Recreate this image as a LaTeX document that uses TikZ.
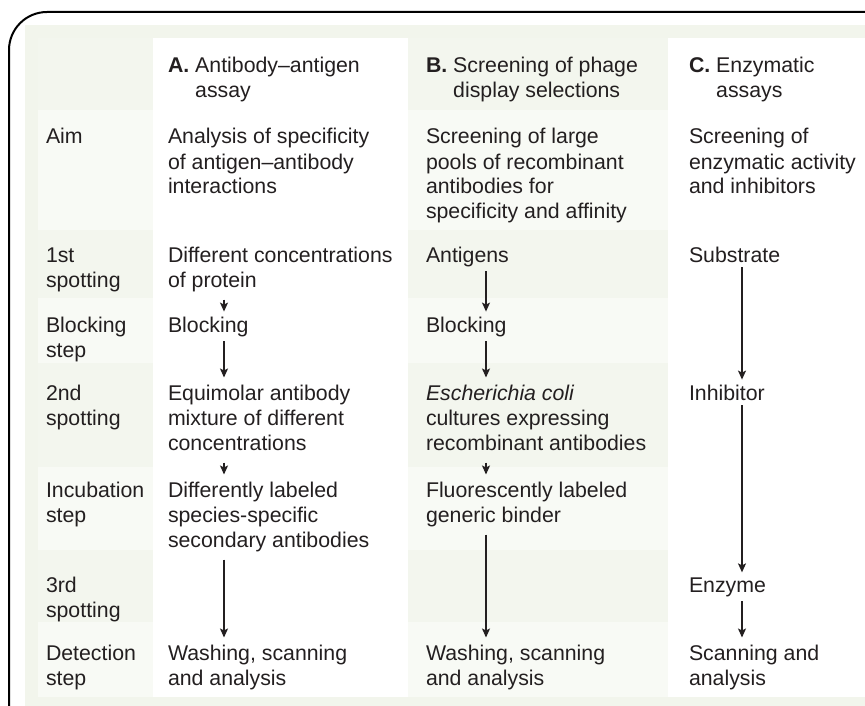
\documentclass[tikz,border=0pt]{standalone}
\usepackage{fontspec}
\setmainfont{Liberation Sans}
\usetikzlibrary{arrows.meta}
\definecolor{ink}{HTML}{231F20}
\definecolor{panel}{HTML}{F2F5EC}
\definecolor{bandD}{HTML}{F3F6EE}
\definecolor{bandL}{HTML}{F8FAF5}
\newcommand{\mycell}[1]{\begin{tabular}[t]{@{}l@{}}#1\end{tabular}}
\tikzset{
  txt/.style={anchor=base west, inner sep=0pt, outer sep=0pt, text=ink, font=\fontsize{21.3}{25}\selectfont},
  arr/.style={draw=ink, line width=1.3pt, -{Stealth[length=9pt,width=8pt,inset=2pt]}, shorten <=5pt, shorten >=5pt},
  frame/.style={draw=black, line width=2pt, rounded corners=38pt},
}
\begin{document}
\begin{tikzpicture}[x=1pt,y=-1pt]
\useasboundingbox (0,0) rectangle (865,706);
% background panel
\fill[panel] (25,706) -- (25,25) -- (865,25) -- (865,706) -- cycle;
% row bands in label column and column B
\foreach \ya/\yb/\c in {38/110/bandD,110/230/bandL,230/298/bandD,298/363/bandL,363/467/bandD,467/550/bandL,550/622/bandD,622/697/bandL}{
  \fill[\c] (38,\ya) rectangle (153,\yb);
  \fill[\c] (408,\ya) rectangle (668,\yb);
}
% white columns A and C
\fill[white] (153,38) rectangle (408,697);
\fill[white] (668,38) rectangle (865,697);
% frame
\draw[frame] (9,706) -- (9,12) -- (865,12);

% headers
\node[txt] (hA) at (168,73) {\mycell{\textbf{A.} Antibody–antigen\\\hphantom{\textbf{A.} }assay}};
\node[txt] (hB) at (426,73) {\mycell{\textbf{B.} Screening of phage\\\hphantom{\textbf{B.} }display selections}};
\node[txt] (hC) at (689,73) {\mycell{\textbf{C.} Enzymatic\\\hphantom{\textbf{C.} }assays}};

% row labels
\node[txt] (lAim) at (46,144) {Aim};
\node[txt] (l1) at (46,262) {\mycell{1st\\spotting}};
\node[txt] (lB) at (46,332) {\mycell{Blocking\\step}};
\node[txt] (l2) at (46,400) {\mycell{2nd\\spotting}};
\node[txt] (lI) at (46,497) {\mycell{Incubation\\step}};
\node[txt] (l3) at (46,592) {\mycell{3rd\\spotting}};
\node[txt] (lD) at (46,660) {\mycell{Detection\\step}};

% column A
\node[txt] (aAim) at (168,144) {\mycell{Analysis of specificity\\of antigen–antibody\\interactions}};
\node[txt] (a1) at (168,262) {\mycell{Different concentrations\\of protein}};
\node[txt] (a2) at (168,332) {Blocking};
\node[txt] (a3) at (168,400) {\mycell{Equimolar antibody\\mixture of different\\concentrations}};
\node[txt] (a4) at (168,497) {\mycell{Differently labeled\\species-specific\\secondary antibodies}};
\node[txt] (a5) at (168,660) {\mycell{Washing, scanning\\and analysis}};

% column B
\node[txt] (bAim) at (426,144) {\mycell{Screening of large\\pools of recombinant\\antibodies for\\specificity and affinity}};
\node[txt] (b1) at (426,262) {Antigens};
\node[txt] (b2) at (426,332) {Blocking};
\node[txt] (b3) at (426,400) {\mycell{\textit{Escherichia coli}\\cultures expressing\\recombinant antibodies}};
\node[txt] (b4) at (426,497) {\mycell{Fluorescently labeled\\generic binder}};
\node[txt] (b5) at (426,660) {\mycell{Washing, scanning\\and analysis}};

% column C
\node[txt] (cAim) at (689,144) {\mycell{Screening of\\enzymatic activity\\and inhibitors}};
\node[txt] (c1) at (689,262) {Substrate};
\node[txt] (c2) at (689,400) {Inhibitor};
\node[txt] (c3) at (689,592) {Enzyme};
\node[txt] (c4) at (689,660) {\mycell{Scanning and\\analysis}};

% arrow columns
\coordinate (ax) at (224,0);
\coordinate (bx) at (486,0);
\coordinate (cx) at (742,0);

\draw[arr] (a1.south -| ax) -- (a2.north -| ax);
\draw[arr] (a2.south -| ax) -- (a3.north -| ax);
\draw[arr] (a3.south -| ax) -- (a4.north -| ax);
\draw[arr] (a4.south -| ax) -- (a5.north -| ax);

\draw[arr] (b1.south -| bx) -- (b2.north -| bx);
\draw[arr] (b2.south -| bx) -- (b3.north -| bx);
\draw[arr] (b3.south -| bx) -- (b4.north -| bx);
\draw[arr] (b4.south -| bx) -- (b5.north -| bx);

\draw[arr] (c1.south -| cx) -- (c2.north -| cx);
\draw[arr] (c2.south -| cx) -- (c3.north -| cx);
\draw[arr] (c3.south -| cx) -- (c4.north -| cx);
\end{tikzpicture}
\end{document}
